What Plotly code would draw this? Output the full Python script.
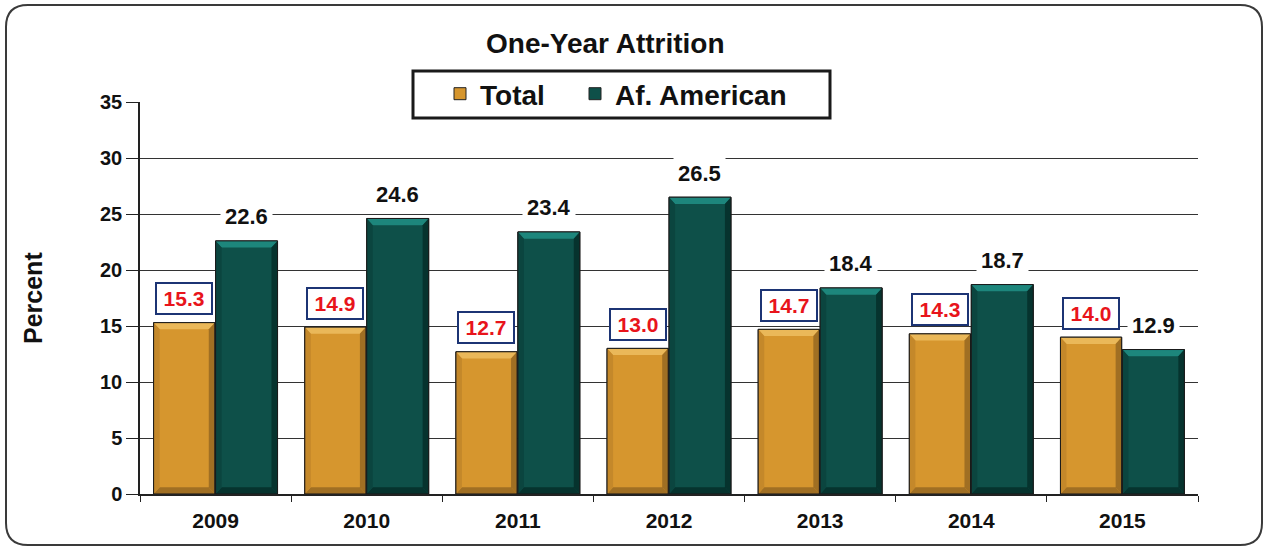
import plotly.graph_objects as go

# One-year attrition rates (percent)
years = ["2009", "2010", "2011", "2012", "2013", "2014", "2015"]
total = [15.3, 14.9, 12.7, 13.0, 14.7, 14.3, 14.0]
af_american = [22.6, 24.6, 23.4, 26.5, 18.4, 18.7, 12.9]
y_ticks = [0, 5, 10, 15, 20, 25, 30, 35]

W, H = 1267, 548
L, R, T, B = 140, 69, 102, 54
PW, PH = W - L - R, H - T - B

FONT = "Liberation Sans, Arial, sans-serif"

GOLD = "#d6962e"
GOLD_TOP = "#ecbb5e"
GOLD_SIDE = "#c2862a"
GOLD_BOT = "#9a6a22"
TEAL = "#0e5049"
TEAL_TOP = "#1f8c82"
TEAL_SIDE = "#0b443e"
TEAL_BOT = "#06302b"


def px(x):
    return (x - L) / PW


def py(y):
    return (H - B - y) / PH


series = [
    ("Total", total, GOLD, GOLD_TOP, GOLD_SIDE, GOLD_BOT, -0.41, 0.405, "legend"),
    ("Af. American", af_american, TEAL, TEAL_TOP, TEAL_SIDE, TEAL_BOT, 0.0, 0.41, "legend2"),
]

fig = go.Figure()
shapes = []
for name, vals, col, top, side, bot, off, wid, leg in series:
    fig.add_trace(go.Bar(
        name=name, x=years, y=vals, offset=off, width=wid, legend=leg,
        marker=dict(color=col, line=dict(color="#222222", width=1)),
        hoverinfo="skip",
    ))
    # bevelled faces on each bar
    dx, dy = 0.04, 0.6
    for i, v in enumerate(vals):
        x0, x1 = i + off, i + off + wid
        faces = [
            (f"M {x0} {v} L {x1} {v} L {x1-dx} {v-dy} L {x0+dx} {v-dy} Z", top),
            (f"M {x0} 0 L {x1} 0 L {x1-dx} {dy} L {x0+dx} {dy} Z", bot),
            (f"M {x0} 0 L {x0} {v} L {x0+dx} {v-dy} L {x0+dx} {dy} Z", side),
            (f"M {x1} 0 L {x1} {v} L {x1-dx} {v-dy} L {x1-dx} {dy} Z", bot),
        ]
        for path, fc in faces:
            shapes.append(dict(type="path", xref="x", yref="y", path=path,
                               fillcolor=fc, line=dict(width=0), layer="above",
                               opacity=0.9))
        shapes.append(dict(type="rect", xref="x", yref="y", x0=x0, x1=x1, y0=0, y1=v,
                           line=dict(color="#1a1a1a", width=1), layer="above"))

annotations = []
for i, v in enumerate(total):
    annotations.append(dict(
        x=i - 0.41 + 0.2025, y=v, xref="x", yref="y", text=f"<b>{v:.1f}</b>",
        showarrow=False, yshift=24, font=dict(family=FONT, size=21, color="#e8141b"),
        bgcolor="white", bordercolor="#1c3474", borderwidth=2, borderpad=3,
        width=48, height=23,
    ))
for i, v in enumerate(af_american):
    annotations.append(dict(
        x=i + 0.205, y=v, xref="x", yref="y", text=f"<b>{v:.1f}</b>",
        showarrow=False, yshift=24, font=dict(family=FONT, size=22, color="#111111"),
        bgcolor="white", borderpad=4,
    ))

# legend frame
shapes.append(dict(type="rect", xref="paper", yref="paper",
                   x0=px(413), x1=px(830), y0=py(118), y1=py(71),
                   fillcolor="white", line=dict(color="#1a1a1a", width=3), layer="above"))

# outer rounded frame
r = 22
x0, x1, y0, y1 = 6, 1262, 5, 545
path = (f"M {px(x0 + r)} {py(y0)} L {px(x1 - r)} {py(y0)} "
        f"Q {px(x1)} {py(y0)} {px(x1)} {py(y0 + r)} "
        f"L {px(x1)} {py(y1 - r)} Q {px(x1)} {py(y1)} {px(x1 - r)} {py(y1)} "
        f"L {px(x0 + r)} {py(y1)} Q {px(x0)} {py(y1)} {px(x0)} {py(y1 - r)} "
        f"L {px(x0)} {py(y0 + r)} Q {px(x0)} {py(y0)} {px(x0 + r)} {py(y0)} Z")
shapes.append(dict(type="path", xref="paper", yref="paper", path=path,
                   line=dict(color="#3a3a3a", width=2), layer="below"))

annotations.append(dict(
    x=px(605), y=py(43), xref="paper", yref="paper", text="<b>One-Year Attrition</b>",
    showarrow=False, xanchor="center", yanchor="middle",
    font=dict(family=FONT, size=28, color="#111111"),
))
annotations.append(dict(
    x=px(33), y=py(298), xref="paper", yref="paper", text="<b>Percent</b>",
    showarrow=False, textangle=-90, xanchor="center", yanchor="middle",
    font=dict(family=FONT, size=25, color="#111111"),
))

legend_style = dict(
    orientation="h", yanchor="middle", xanchor="left",
    bgcolor="rgba(0,0,0,0)", borderwidth=0,
    font=dict(family=FONT, size=28, color="#111111", weight="bold"),
    itemclick=False, itemdoubleclick=False,
)

fig.update_layout(
    width=W, height=H,
    margin=dict(l=L, r=R, t=T, b=B),
    paper_bgcolor="white", plot_bgcolor="white",
    barmode="overlay",
    showlegend=True,
    legend=dict(x=px(440), y=py(94), **legend_style),
    legend2=dict(x=px(575), y=py(94), **legend_style),
    shapes=shapes,
    annotations=annotations,
    xaxis=dict(
        type="category", range=[-0.5, 6.5],
        showline=True, linecolor="#222222", linewidth=1.5,
        ticks="outside", tickson="boundaries", ticklen=6, tickcolor="#222222",
        ticklabelstandoff=7,
        tickfont=dict(family=FONT, size=21, color="#111111", weight="bold"),
        showgrid=False,
    ),
    yaxis=dict(
        range=[0, 35], tickvals=y_ticks,
        showline=True, linecolor="#222222", linewidth=1.5,
        ticks="outside", ticklen=12, tickcolor="#222222",
        tickfont=dict(family=FONT, size=20, color="#111111", weight="bold"),
        showgrid=True, gridcolor="#333333", gridwidth=1,
        zeroline=False,
    ),
)

fig.write_html("out.html")
